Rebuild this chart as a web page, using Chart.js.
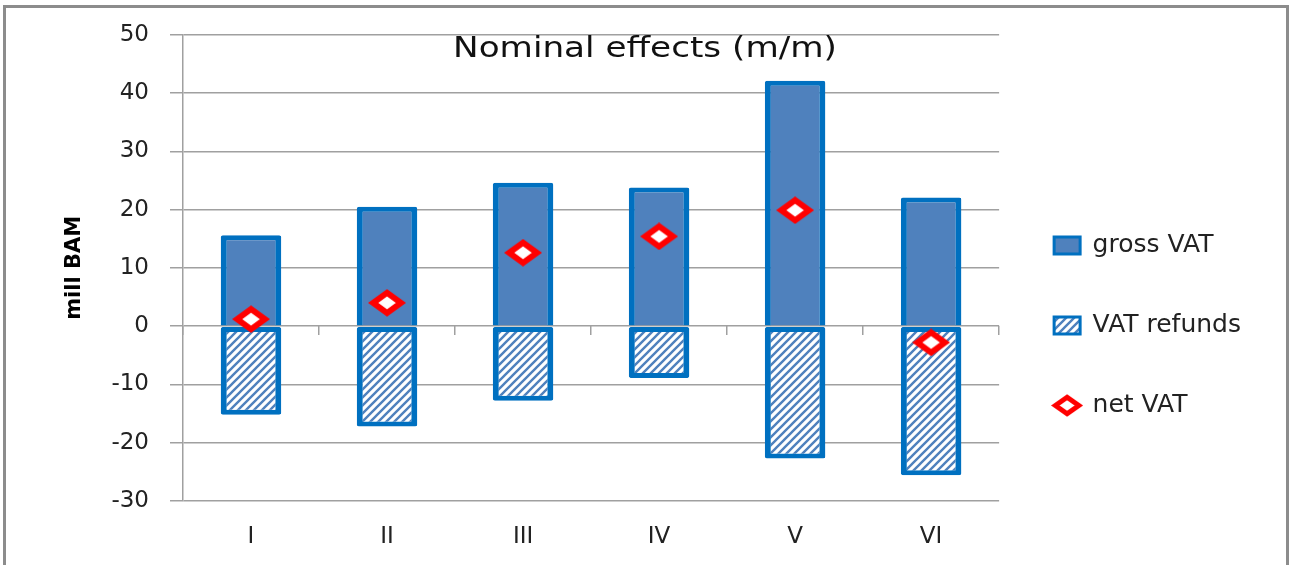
<!DOCTYPE html>
<html>
<head>
<meta charset="utf-8">
<script src="https://cdn.jsdelivr.net/npm/chart.js@4"></script>
<style>
html,body{margin:0;padding:0;background:#fff;}
#wrap{position:relative;width:1290px;height:565px;overflow:hidden;background:#fff;}
#c{position:absolute;left:0;top:0;}
#frame{position:absolute;left:3px;top:5px;width:1286px;height:620px;border:3px solid #8c8c8c;box-sizing:border-box;pointer-events:none;}
#title{position:absolute;left:0;top:30px;width:1290px;text-align:center;font-family:"DejaVu Sans";font-size:29px;line-height:34px;color:#111;transform:scaleX(1.18);transform-origin:645px 0;white-space:nowrap;}
</style>
</head>
<body>
<div id="wrap">
<canvas id="c" width="1290" height="565"></canvas>
<div id="title">Nominal effects (m/m)</div>
<div id="frame"></div>
</div>
<script>
const categories = ['I', 'II', 'III', 'IV', 'V', 'VI'];
const grossVAT = [15.6, 20.5, 24.6, 23.8, 42.1, 22.1];
const vatRefunds = [-15.2, -17.2, -12.8, -8.9, -22.7, -25.6];
const netVAT = [1.2, 4.0, 12.6, 15.4, 19.9, -2.8];
const yMin = -30, yMax = 50, yStep = 10;

function makeHatch() {
  const c = document.createElement('canvas');
  c.width = 8; c.height = 8;
  const g = c.getContext('2d');
  g.fillStyle = '#ffffff'; g.fillRect(0, 0, 8, 8);
  g.strokeStyle = '#4F81BD'; g.lineWidth = 2.4;
  g.beginPath();
  g.moveTo(-1, 9); g.lineTo(9, -1);
  g.moveTo(-3, 3); g.lineTo(3, -3);
  g.moveTo(5, 11); g.lineTo(11, 5);
  g.stroke();
  return g.createPattern(c, 'repeat');
}
function makeDiamond(w, h, lw) {
  const c = document.createElement('canvas');
  c.width = w; c.height = h;
  const g = c.getContext('2d');
  const mx = lw * 0.85, my = lw * 0.65;
  g.beginPath();
  g.moveTo(w / 2, my); g.lineTo(w - mx, h / 2); g.lineTo(w / 2, h - my); g.lineTo(mx, h / 2);
  g.closePath();
  g.fillStyle = '#ffffff'; g.fill();
  g.lineWidth = lw; g.strokeStyle = '#FF0000'; g.lineJoin = 'miter';
  g.stroke();
  return c;
}
const hatch = makeHatch();
const diamond = makeDiamond(38, 28, 6);
const legendDiamond = makeDiamond(32, 23, 5);

const tickFont = {family: 'DejaVu Sans', size: 23};

new Chart(document.getElementById('c'), {
  type: 'bar',
  data: {
    labels: categories,
    datasets: [
      {label: 'gross VAT', data: grossVAT, backgroundColor: '#4F81BD', borderColor: '#0070C0',
       borderWidth: {top: 5, left: 6, right: 6, bottom: 0},
       borderSkipped: 'start', borderRadius: 2, stack: 'vat', order: 1, pointStyle: 'rect', xAxisID: 'x', yAxisID: 'y',
       categoryPercentage: 1, barPercentage: 0.445},
      {label: 'VAT refunds', data: vatRefunds, backgroundColor: hatch, borderColor: '#0070C0',
       borderWidth: {top: 5, left: 6, right: 6, bottom: 5},
       borderSkipped: false, borderRadius: 2, stack: 'vat', order: 1, pointStyle: 'rect', xAxisID: 'x', yAxisID: 'y',
       categoryPercentage: 1, barPercentage: 0.445},
      {type: 'line', label: 'net VAT', data: netVAT, showLine: false, pointStyle: diamond, pointRadius: 14,
       borderColor: '#FF0000', backgroundColor: '#ffffff', order: 0, stack: 'net', xAxisID: 'x', yAxisID: 'y'}
    ]
  },
  options: {
    responsive: false,
    animation: false,
    layout: {padding: {left: 0, top: 34, right: 39, bottom: 0}},
    scales: {
      x: {
        stacked: true,
        grid: {display: false, drawTicks: false},
        border: {display: false},
        ticks: {padding: 22, color: '#222', font: tickFont},
        afterFit(s) { s.height = 64; }
      },
      x2: {
        type: 'category',
        labels: categories,
        position: {y: 0},
        offset: true,
        grid: {offset: true, drawOnChartArea: false, tickLength: 9, color: '#A0A0A0', lineWidth: 1.5},
        border: {display: false},
        ticks: {display: false}
      },
      y: {
        stacked: true,
        min: yMin, max: yMax,
        ticks: {stepSize: yStep, padding: 21, color: '#222', font: tickFont},
        grid: {color: '#A0A0A0', lineWidth: 1.5, tickLength: 13},
        border: {color: '#A0A0A0', width: 1.5},
        title: {display: true, text: 'mill BAM', color: '#000',
                font: {family: 'DejaVu Sans', size: 21, weight: 'bold'}, padding: {top: 62, bottom: 0}},
        afterFit(s) { s.width = 183; }
      }
    },
    plugins: {
      tooltip: {enabled: false},
      legend: {
        position: 'right',
        align: 'start',
        title: {display: true, text: ' ', font: {size: 10, lineHeight: 1}, padding: {top: 0, bottom: 134}},
        labels: {
          usePointStyle: true,
          pointStyleWidth: 26,
          boxHeight: 17,
          padding: 55,
          color: '#222',
          font: {family: 'DejaVu Sans', size: 25},
          sort: (a, b) => a.datasetIndex - b.datasetIndex,
          generateLabels(chart) {
            const items = Chart.defaults.plugins.legend.labels.generateLabels(chart);
            items.forEach(it => {
              if (it.datasetIndex === 2) { it.pointStyle = legendDiamond; }
              else { it.lineWidth = 3; it.strokeStyle = '#0070C0'; }
            });
            return items;
          }
        }
      }
    }
  }
});
</script>
</body>
</html>
